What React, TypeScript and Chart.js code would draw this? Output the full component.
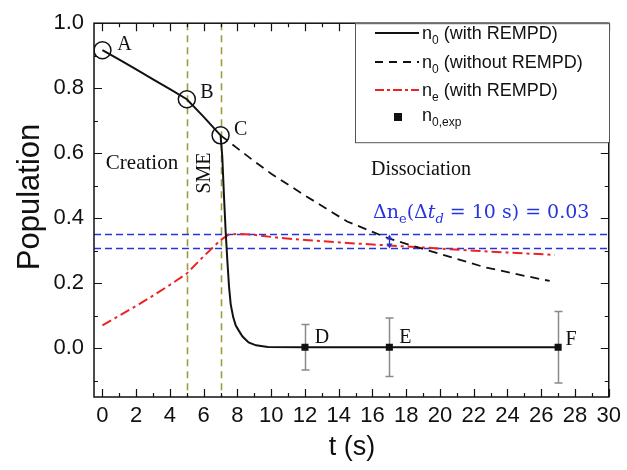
import React, { useEffect, useRef } from "react";
import { Chart, registerables } from "chart.js";

Chart.register(...registerables);

// ---------- data ----------
const xTickLabels = [0, 2, 4, 6, 8, 10, 12, 14, 16, 18, 20, 22, 24, 26, 28, 30];
const yTickLabels = [0.0, 0.2, 0.4, 0.6, 0.8, 1.0];

const n0WithT = [0, 1, 2, 3, 4, 5, 6, 7, 7.1, 7.2, 7.3, 7.4, 7.5, 7.6, 7.75, 7.9, 8.07, 8.3, 8.66, 9.1, 9.8, 12, 17, 27];
const n0WithV = [0.917, 0.888, 0.858, 0.827, 0.797, 0.766, 0.712, 0.655, 0.59, 0.47, 0.36, 0.27, 0.19, 0.135, 0.095, 0.07, 0.055, 0.036, 0.018, 0.009, 0.004, 0.003, 0.003, 0.003];

const n0WithoutT = [7, 8, 9, 10, 12, 14.5, 17, 18.7, 20, 22.6, 25, 26.5];
const n0WithoutV = [0.655, 0.615, 0.575, 0.537, 0.47, 0.39, 0.337, 0.31, 0.29, 0.25, 0.223, 0.207];

const neT = [0, 1, 2, 3, 4, 5, 6, 7, 7.5, 8, 9, 10.4, 12, 14.5, 17, 18.7, 22, 26.8];
const neV = [0.07, 0.1, 0.13, 0.162, 0.195, 0.23, 0.283, 0.333, 0.35, 0.352, 0.349, 0.34, 0.333, 0.324, 0.316, 0.311, 0.3, 0.287];

const expT = [12, 17, 27];
const expV = [0.003, 0.003, 0.003];
const expErr = [0.07, 0.09, 0.11];
const expLabels = ["D", "E", "F"];

const markT = [0, 5, 7];
const markV = [0.917, 0.766, 0.655];
const markLabels = ["A", "B", "C"];

const phaseBoundaries = [5, 7];
const neLevels = [0.35, 0.307];
const deltaArrowT = 17;

const X_MIN = -0.5;
const X_MAX = 30;
const Y_MIN = -0.15;
const Y_MAX = 1.0;

const SANS = "'Liberation Sans', Arial, sans-serif";
const SERIF = "'Liberation Serif', 'Times New Roman', serif";
const MATH = "'DejaVu Serif', serif";

function pts(xs: number[], ys: number[]) {
  return xs.map((x, i) => ({ x, y: ys[i] }));
}

type Part = { t: string; sub?: boolean; italic?: boolean };

function drawParts(ctx: CanvasRenderingContext2D, x: number, y: number, parts: Part[], family: string, size: number, subSize: number, subDy: number, color: string) {
  let cx = x;
  ctx.fillStyle = color;
  ctx.textBaseline = "alphabetic";
  ctx.textAlign = "left";
  for (const p of parts) {
    const sz = p.sub ? subSize : size;
    ctx.font = `${p.italic ? "italic " : ""}${sz}px ${family}`;
    ctx.fillText(p.t, cx, p.sub ? y + subDy : y);
    cx += ctx.measureText(p.t).width;
  }
  return cx - x;
}

const overlay = {
  id: "overlay",
  beforeDatasetsDraw(chart: any) {
    const { ctx, chartArea: a, scales } = chart;
    const xs = scales.x, ys = scales.y;
    ctx.save();
    ctx.strokeStyle = "#9c9c3a";
    ctx.lineWidth = 1.6;
    ctx.setLineDash([7, 5]);
    for (const t of phaseBoundaries) {
      const px = Math.round(xs.getPixelForValue(t)) + 0.5;
      ctx.beginPath();
      ctx.moveTo(px, a.top);
      ctx.lineTo(px, a.bottom);
      ctx.stroke();
    }
    ctx.strokeStyle = "#2634e0";
    ctx.lineWidth = 1.3;
    ctx.setLineDash([7, 4]);
    for (const v of neLevels) {
      const py = Math.round(ys.getPixelForValue(v)) + 0.5;
      ctx.beginPath();
      ctx.moveTo(a.left, py);
      ctx.lineTo(a.right, py);
      ctx.stroke();
    }
    ctx.setLineDash([]);
    ctx.strokeStyle = "#8a8a8a";
    ctx.lineWidth = 1.5;
    expT.forEach((t, i) => {
      const px = Math.round(xs.getPixelForValue(t)) + 0.5;
      const y1 = ys.getPixelForValue(expV[i] + expErr[i]);
      const y2 = ys.getPixelForValue(expV[i] - expErr[i]);
      ctx.beginPath();
      ctx.moveTo(px, y1);
      ctx.lineTo(px, y2);
      ctx.moveTo(px - 4, y1);
      ctx.lineTo(px + 4, y1);
      ctx.moveTo(px - 4, y2);
      ctx.lineTo(px + 4, y2);
      ctx.stroke();
    });
    ctx.restore();
  },
  afterDatasetsDraw(chart: any) {
    const { ctx, chartArea: a, scales } = chart;
    const xs = scales.x, ys = scales.y;
    ctx.save();

    const ax = Math.round(xs.getPixelForValue(deltaArrowT)) + 0.5;
    const ay1 = ys.getPixelForValue(neLevels[0]);
    const ay2 = ys.getPixelForValue(neLevels[1]);
    ctx.strokeStyle = "#2634e0";
    ctx.fillStyle = "#2634e0";
    ctx.lineWidth = 1.3;
    ctx.beginPath();
    ctx.moveTo(ax, ay1 + 3);
    ctx.lineTo(ax, ay2 - 3);
    ctx.stroke();
    ctx.beginPath();
    ctx.moveTo(ax, ay1);
    ctx.lineTo(ax - 3, ay1 + 5);
    ctx.lineTo(ax + 3, ay1 + 5);
    ctx.closePath();
    ctx.fill();
    ctx.beginPath();
    ctx.moveTo(ax, ay2);
    ctx.lineTo(ax - 3, ay2 - 5);
    ctx.lineTo(ax + 3, ay2 - 5);
    ctx.closePath();
    ctx.fill();

    ctx.strokeStyle = "#111";
    ctx.lineWidth = 1.5;
    ctx.strokeRect(a.left, a.top, a.right - a.left, a.bottom - a.top);
    ctx.lineWidth = 1.2;
    ctx.beginPath();
    for (let t = 0; t <= 30; t++) {
      const px = Math.round(xs.getPixelForValue(t)) + 0.5;
      const len = t % 2 === 0 ? 8 : 4;
      ctx.moveTo(px, a.bottom);
      ctx.lineTo(px, a.bottom - len);
      ctx.moveTo(px, a.top);
      ctx.lineTo(px, a.top + len);
    }
    for (let k = -1; k <= 10; k++) {
      const py = Math.round(ys.getPixelForValue(k / 10)) + 0.5;
      const len = k % 2 === 0 ? 8 : 4;
      ctx.moveTo(a.left, py);
      ctx.lineTo(a.left + len, py);
      ctx.moveTo(a.right, py);
      ctx.lineTo(a.right - len, py);
    }
    ctx.stroke();

    ctx.fillStyle = "#111";
    ctx.font = `20px ${SERIF}`;
    ctx.textAlign = "center";
    ctx.textBaseline = "middle";
    const markOff = [[22, -5], [20, -7], [20, -6]];
    markT.forEach((t, i) => {
      ctx.fillText(markLabels[i], xs.getPixelForValue(t) + markOff[i][0], ys.getPixelForValue(markV[i]) + markOff[i][1]);
    });
    const expOff = [[17, -10], [16, -10], [13, -8]];
    expT.forEach((t, i) => {
      ctx.fillText(expLabels[i], xs.getPixelForValue(t) + expOff[i][0], ys.getPixelForValue(expV[i]) + expOff[i][1]);
    });

    ctx.font = `21px ${SERIF}`;
    ctx.fillText("Creation", 142, 163);
    ctx.font = `20px ${SERIF}`;
    ctx.fillText("Dissociation", 421, 170);
    ctx.save();
    ctx.translate(205, 173);
    ctx.rotate(-Math.PI / 2);
    ctx.fillText("SME", 0, 0);
    ctx.restore();

    const dParts: Part[] = [
      { t: "Δn" },
      { t: "e", sub: true },
      { t: "(Δ" },
      { t: "t", italic: true },
      { t: "d", sub: true, italic: true },
      { t: " = 10 s) = 0.03" },
    ];
    drawParts(ctx, 373, 218, dParts, MATH, 19, 13, 5, "#2634e0");

    ctx.fillStyle = "#111";
    ctx.textAlign = "center";
    ctx.textBaseline = "middle";
    ctx.font = `31px ${SANS}`;
    ctx.save();
    ctx.translate(30, 197);
    ctx.rotate(-Math.PI / 2);
    ctx.fillText("Population", 0, 0);
    ctx.restore();
    ctx.font = `27px ${SANS}`;
    ctx.fillText("t (s)", 352, 448);

    const lx = 355.5, ly = a.top, lw = 254, lh = 119;
    ctx.fillStyle = "#fff";
    ctx.fillRect(lx, ly, lw, lh);
    ctx.strokeStyle = "#555";
    ctx.lineWidth = 1;
    ctx.strokeRect(lx, ly + 0.5, lw, lh);
    const rows = [33, 62, 90, 117];
    const sx1 = 375, sx2 = 419;
    ctx.lineWidth = 2;
    ctx.strokeStyle = "#111";
    ctx.setLineDash([]);
    ctx.beginPath(); ctx.moveTo(sx1, rows[0]); ctx.lineTo(sx2, rows[0]); ctx.stroke();
    ctx.setLineDash([8, 6]);
    ctx.beginPath(); ctx.moveTo(sx1, rows[1]); ctx.lineTo(sx2, rows[1]); ctx.stroke();
    ctx.strokeStyle = "#ee2222";
    ctx.setLineDash([9, 3, 3, 3]);
    ctx.beginPath(); ctx.moveTo(sx1, rows[2]); ctx.lineTo(sx2, rows[2]); ctx.stroke();
    ctx.setLineDash([]);
    ctx.fillStyle = "#111";
    ctx.fillRect(398 - 4, rows[3] - 4, 8, 8);
    const tx = 422;
    drawParts(ctx, tx, rows[0] + 6, [{ t: "n" }, { t: "0", sub: true }, { t: " (with REMPD)" }], SANS, 18, 12, 5, "#111");
    drawParts(ctx, tx, rows[1] + 6, [{ t: "n" }, { t: "0", sub: true }, { t: " (without REMPD)" }], SANS, 18, 12, 5, "#111");
    drawParts(ctx, tx, rows[2] + 6, [{ t: "n" }, { t: "e", sub: true }, { t: " (with REMPD)" }], SANS, 18, 12, 5, "#111");
    drawParts(ctx, tx, rows[3] + 4, [{ t: "n" }, { t: "0,exp", sub: true }], SANS, 18, 12, 5, "#111");

    ctx.restore();
  },
};

export default function App() {
  const ref = useRef<HTMLCanvasElement>(null);
  useEffect(() => {
    if (!ref.current) return;
    const chart = new Chart(ref.current, {
      type: "scatter",
      data: {
        datasets: [
          {
            label: "n0 (with REMPD)",
            data: pts(n0WithT, n0WithV),
            showLine: true,
            borderColor: "#111",
            borderWidth: 2,
            pointRadius: 0,
            tension: 0,
          },
          {
            label: "n0 (without REMPD)",
            data: pts(n0WithoutT, n0WithoutV),
            showLine: true,
            borderColor: "#111",
            borderWidth: 1.8,
            borderDash: [9, 6],
            pointRadius: 0,
            tension: 0,
          },
          {
            label: "ne (with REMPD)",
            data: pts(neT, neV),
            showLine: true,
            borderColor: "#ee2222",
            borderWidth: 2,
            borderDash: [10, 4, 3, 4],
            pointRadius: 0,
            tension: 0,
          },
          {
            label: "n0,exp",
            data: pts(expT, expV),
            showLine: false,
            pointStyle: "rect",
            pointRadius: 5,
            backgroundColor: "#111",
            borderColor: "#111",
            borderWidth: 0,
          },
          {
            label: "marks",
            data: pts(markT, markV),
            showLine: false,
            pointStyle: "circle",
            pointRadius: 8.5,
            backgroundColor: "rgba(0,0,0,0)",
            borderColor: "#111",
            borderWidth: 1.5,
          },
        ],
      },
      options: {
        responsive: false,
        animation: false,
        devicePixelRatio: 1,
        layout: { padding: { left: 0, top: 16, right: 15, bottom: 0 } },
        plugins: { legend: { display: false }, tooltip: { enabled: false } },
        scales: {
          x: {
            type: "linear",
            min: X_MIN,
            max: X_MAX,
            afterBuildTicks: (s: any) => {
              s.ticks = xTickLabels.map((v) => ({ value: v }));
            },
            afterFit: (s: any) => {
              s.height = 73;
            },
            ticks: {
              autoSkip: false,
              maxRotation: 0,
              padding: 6,
              color: "#111",
              font: { family: SANS, size: 22 },
              callback: (v: any) => String(v),
            },
            grid: { display: false, drawTicks: false },
            border: { display: false },
          },
          y: {
            type: "linear",
            min: Y_MIN,
            max: Y_MAX,
            afterBuildTicks: (s: any) => {
              s.ticks = yTickLabels.map((v) => ({ value: v }));
            },
            afterFit: (s: any) => {
              s.width = 94;
            },
            ticks: {
              autoSkip: false,
              padding: 10,
              color: "#111",
              font: { family: SANS, size: 22 },
              callback: (v: any) => Number(v).toFixed(1),
            },
            grid: { display: false, drawTicks: false },
            border: { display: false },
          },
        },
      },
      plugins: [overlay],
    });
    return () => chart.destroy();
  }, []);
  return (
    <div style={{ position: "fixed", left: 0, top: 0, width: 627, height: 470, background: "#fff" }}>
      <canvas ref={ref} width={627} height={470} style={{ display: "block" }} />
    </div>
  );
}
